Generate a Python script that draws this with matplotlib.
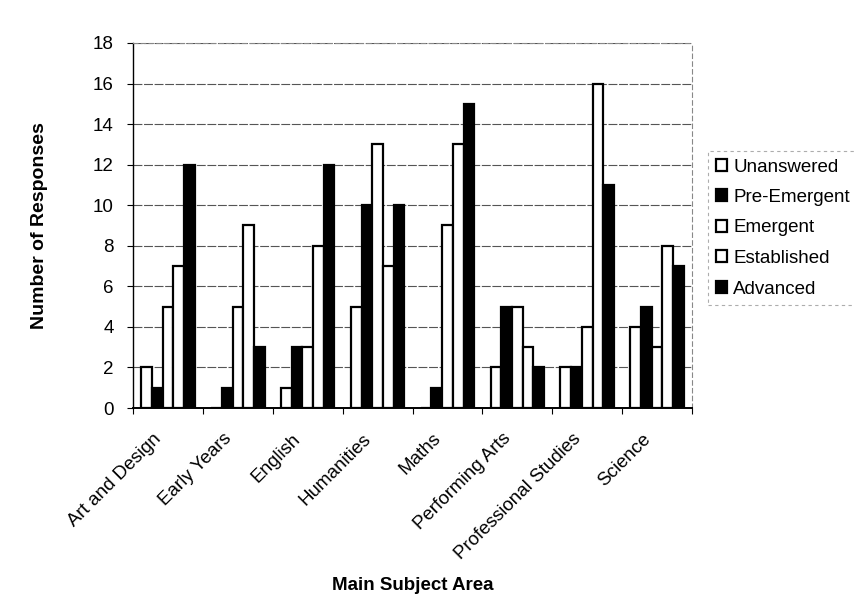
import numpy as np
import matplotlib as mpl
import matplotlib.pyplot as plt

subjects = ["Art and Design", "Early Years", "English", "Humanities",
            "Maths", "Performing Arts", "Professional Studies", "Science"]
levels = ["Unanswered", "Pre-Emergent", "Emergent", "Established", "Advanced"]

unanswered   = [2, 0, 1, 5, 0, 2, 2, 4]
pre_emergent = [1, 1, 3, 10, 1, 5, 2, 5]
emergent     = [5, 5, 3, 13, 9, 5, 4, 3]
established  = [7, 9, 8, 7, 13, 3, 16, 8]
advanced     = [12, 3, 12, 10, 15, 2, 11, 7]

series = [unanswered, pre_emergent, emergent, established, advanced]
fills = ["white", "black", "white", "white", "black"]

mpl.rcParams.update({
    "font.family": ["Liberation Sans", "DejaVu Sans"],
})

fig = plt.figure(figsize=(8.55, 6.14), dpi=100)
ax = fig.add_axes([0.1556, 0.3355, 0.6538, 0.5945])

x = np.arange(len(subjects))
w = 0.153
for i, (vals, fc) in enumerate(zip(series, fills)):
    ax.bar(x + (i - 2) * w, vals, width=w, color=fc, edgecolor="black",
           linewidth=1.6, label=levels[i], zorder=3)

ax.set_xlim(-0.5, len(subjects) - 0.5)
ax.set_ylim(0, 18)
ax.set_yticks(np.arange(0, 19, 2))
ax.yaxis.grid(True, color="#555555", lw=0.8, ls=(0, (8, 1.5)), zorder=0)
ax.set_axisbelow(True)

# ticks at group boundaries, rotated category labels ending just left of centre
ax.set_xticks(np.arange(-0.5, len(subjects), 1.0))
ax.set_xticklabels([])
ax.set_xticks(x - 0.22, minor=True)
ax.set_xticklabels(subjects, minor=True, rotation=45, ha="right", va="top",
                   rotation_mode="anchor", fontsize=13.5)
ax.tick_params(axis="x", which="minor", length=0, pad=16)
ax.tick_params(axis="x", which="major", length=4, width=0.8, direction="out")
ax.tick_params(axis="y", labelsize=13.5, length=4, width=0.8, pad=10)

for side in ["top", "right"]:
    ax.spines[side].set_color("#888888")
    ax.spines[side].set_linestyle((0, (4, 3)))
    ax.spines[side].set_linewidth(0.8)
ax.spines["left"].set_linewidth(1.0)
ax.spines["bottom"].set_linewidth(1.4)

ax.set_ylabel("Number of Responses", fontsize=14, fontweight="bold", labelpad=32)
ax.set_xlabel("Main Subject Area", fontsize=13.5, fontweight="bold", labelpad=10)

leg = fig.legend(loc="upper left", bbox_to_anchor=(708 / 855, 1 - 151 / 614),
                 fontsize=13.5, handlelength=0.6, handleheight=0.6,
                 handletextpad=0.35, labelspacing=0.72, borderpad=0.4,
                 borderaxespad=0.0, frameon=True, fancybox=False)
leg.get_frame().set_edgecolor("#999999")
leg.get_frame().set_linestyle((0, (3, 3)))
leg.get_frame().set_linewidth(0.8)

fig.savefig("out.png", dpi=100)
